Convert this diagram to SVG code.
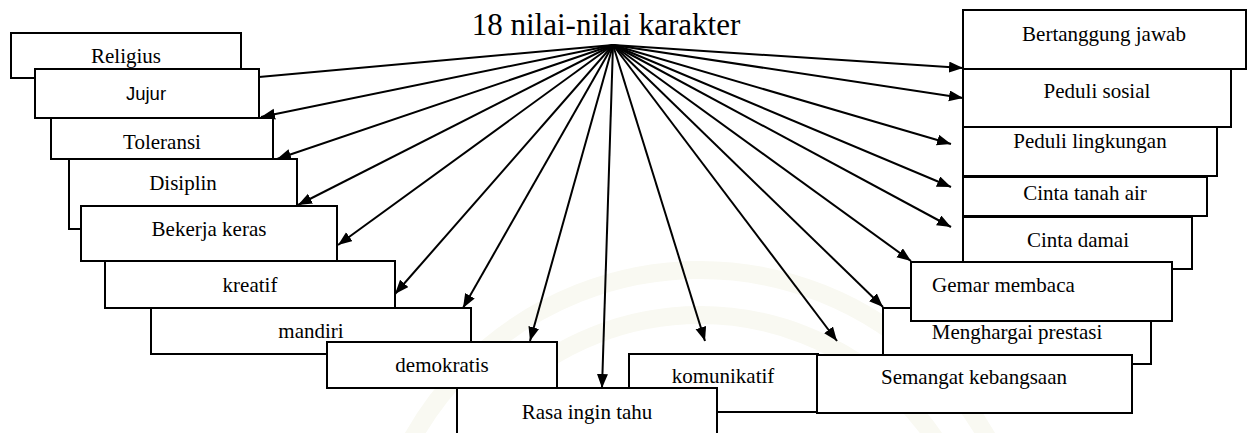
<svg xmlns="http://www.w3.org/2000/svg" width="1247" height="433" viewBox="0 0 1247 433">
<defs>
<style>
.box rect{fill:#fff;stroke:#000;stroke-width:2}
.lbl{font-family:'Liberation Serif','Times New Roman',serif;font-size:21px;fill:#000;text-anchor:middle}
.sans{font-family:'Liberation Sans',Arial,sans-serif;font-size:18.5px;fill:#000;text-anchor:middle}
.title{font-family:'Liberation Serif','Times New Roman',serif;font-size:31px;fill:#000;text-anchor:middle}
.conn line{stroke:#000;stroke-width:2}
.arr{marker-end:url(#ah)}
.wm{fill:none;stroke:#f9f9f2;stroke-width:18}
</style>
<marker id="ah" markerUnits="userSpaceOnUse" markerWidth="15" markerHeight="12" refX="14" refY="5.5" orient="auto">
<path d="M0,0 L14,5.5 L0,11 Z" fill="#000"/>
</marker>
</defs>
<rect width="1247" height="433" fill="#fff"/>
<g id="watermark">
<circle class="wm" cx="700" cy="600" r="330"/>
<circle class="wm" cx="700" cy="600" r="285"/>
</g>
<g font-family="Liberation Serif, Times New Roman, serif">
<text class="title" x="606" y="35">18 nilai-nilai karakter</text>
<g id="n-religius" class="box"><rect x="11" y="33" width="230" height="45"/><text class="lbl" x="126" y="63">Religius</text></g>
<g id="n-jujur" class="box"><rect x="35" y="69" width="224" height="49"/><text class="sans" x="146" y="100" font-family="Liberation Sans, Arial, sans-serif">Jujur</text></g>
<g id="n-toleransi" class="box"><rect x="51" y="118" width="222" height="41"/><text class="lbl" x="162" y="149">Toleransi</text></g>
<g id="n-disiplin" class="box"><rect x="69" y="159" width="228" height="70"/><text class="lbl" x="183" y="190">Disiplin</text></g>
<g id="n-bekerja" class="box"><rect x="81" y="206" width="256" height="55"/><text class="lbl" x="209" y="236">Bekerja keras</text></g>
<g id="n-kreatif" class="box"><rect x="105" y="261" width="290" height="47"/><text class="lbl" x="250" y="292">kreatif</text></g>
<g id="n-mandiri" class="box"><rect x="151" y="308" width="320" height="46"/><text class="lbl" x="311" y="338">mandiri</text></g>
<g id="n-demokratis" class="box"><rect x="327" y="342" width="230" height="46"/><text class="lbl" x="442" y="372">demokratis</text></g>
<g id="n-komunikatif" class="box"><rect x="629" y="354" width="189" height="58"/><text class="lbl" x="723" y="383">komunikatif</text></g>
<g id="n-rasa" class="box"><rect x="457" y="388" width="260" height="60"/><text class="lbl" x="587" y="419">Rasa ingin tahu</text></g>
<g id="n-menghargai" class="box"><rect x="883" y="308" width="268" height="56"/><text class="lbl" x="1017" y="339">Menghargai prestasi</text></g>
<g id="n-semangat" class="box"><rect x="817" y="355" width="315" height="58"/><text class="lbl" x="974" y="384">Semangat kebangsaan</text></g>
<g id="n-bertanggung" class="box"><rect x="963" y="10" width="283" height="59"/><text class="lbl" x="1104" y="41">Bertanggung jawab</text></g>
<g id="n-peduli-sosial" class="box"><rect x="963" y="69" width="268" height="58"/><text class="lbl" x="1097" y="98">Peduli sosial</text></g>
<g id="n-peduli-lingkungan" class="box"><rect x="963" y="127" width="254" height="49"/><text class="lbl" x="1090" y="148">Peduli lingkungan</text></g>
<g id="n-cinta-tanah-air" class="box"><rect x="963" y="177" width="244" height="39"/><text class="lbl" x="1085" y="200">Cinta tanah air</text></g>
<g id="n-cinta-damai" class="box"><rect x="963" y="217" width="229" height="52"/><text class="lbl" x="1078" y="247">Cinta damai</text></g>
<g id="n-gemar" class="box"><rect x="911" y="262" width="261" height="59"/><text class="lbl" x="932" y="292" style="text-anchor:start">Gemar membaca</text></g>
</g>
<g id="connectors" class="conn">
<line x1="613" y1="45" x2="259" y2="77"/>
<line class="arr" x1="613" y1="45" x2="261" y2="117"/>
<line class="arr" x1="613" y1="45" x2="277" y2="159"/>
<line class="arr" x1="613" y1="45" x2="298" y2="205"/>
<line class="arr" x1="613" y1="45" x2="338" y2="245"/>
<line class="arr" x1="613" y1="45" x2="395" y2="294"/>
<line class="arr" x1="613" y1="45" x2="463" y2="308"/>
<line class="arr" x1="613" y1="45" x2="530" y2="341"/>
<line class="arr" x1="613" y1="45" x2="602" y2="388"/>
<line class="arr" x1="613" y1="45" x2="705" y2="341"/>
<line class="arr" x1="613" y1="45" x2="837" y2="341"/>
<line class="arr" x1="613" y1="45" x2="883" y2="307"/>
<line class="arr" x1="613" y1="45" x2="911" y2="261"/>
<line class="arr" x1="613" y1="45" x2="951" y2="227"/>
<line class="arr" x1="613" y1="45" x2="951" y2="187"/>
<line class="arr" x1="613" y1="45" x2="951" y2="144"/>
<line class="arr" x1="613" y1="45" x2="963" y2="98"/>
<line class="arr" x1="613" y1="45" x2="963" y2="68"/>
</g>
</svg>
